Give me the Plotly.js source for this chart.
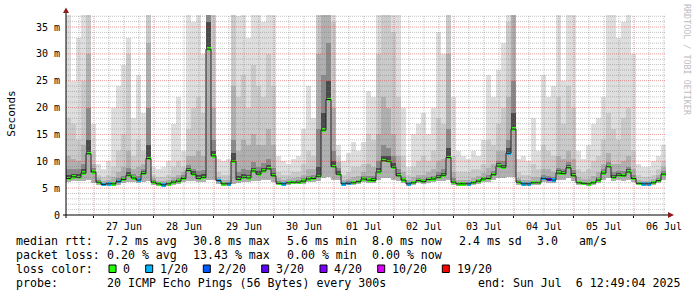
<!DOCTYPE html>
<html><head><meta charset="utf-8">
<script src="https://cdn.plot.ly/plotly-3.0.1.min.js"></script>
<style>html,body{margin:0;padding:0;background:#fff}#chart{width:697px;height:297px}</style>
</head><body><div id="chart"></div>
<script>
// ---- data (2-hour steps, 26 Jun 12:49 -> 06 Jul 12:49) ----
const START = Date.UTC(2025,5,26,12,49);
const STEP_HOURS = 2;
const median = [6.8,7.1,7.0,7.8,11.4,8.0,6.1,5.7,5.8,5.8,
 6.2,6.6,7.4,6.9,6.5,7.7,10.5,6.1,5.8,5.6,
 5.8,6.1,6.3,6.8,8.3,7.6,6.8,7.0,30.9,11.0,
 6.4,5.8,5.8,10.0,6.6,7.0,6.9,8.2,7.6,8.2,
 8.6,7.3,5.9,5.8,6.0,6.1,6.1,6.3,6.7,6.8,
 7.2,15.8,21.5,9.0,7.6,5.8,5.9,6.0,6.2,6.7,
 6.5,6.4,8.0,10.1,10.0,8.9,7.3,6.5,5.8,6.0,
 6.4,6.2,6.6,6.7,7.0,7.4,10.7,6.1,5.8,5.8,
 5.8,6.0,6.3,6.7,6.8,7.5,9.1,8.9,11.5,16.0,
 6.1,5.8,5.8,6.0,6.0,6.8,6.6,6.5,7.8,7.7,
 8.8,7.3,6.0,5.9,5.8,6.0,6.5,7.8,9.0,7.0,
 7.4,7.3,8.0,6.8,5.9,5.8,5.8,6.0,6.4,7.6];
const minPing = [6.2,6.3,6.3,6.4,6.5,6.0,5.6,5.4,5.4,5.4,
 5.6,5.9,6.2,6.1,5.9,6.2,6.3,5.6,5.4,5.3,
 5.4,5.6,5.8,6.1,6.4,6.3,6.1,6.2,6.5,6.5,
 5.8,5.4,5.4,5.8,6.0,6.2,6.2,6.4,6.4,6.5,
 6.5,6.2,5.5,5.4,5.6,5.7,5.7,5.8,6.1,6.2,
 6.3,6.8,7.0,6.6,6.5,5.4,5.5,5.6,5.7,6.1,
 6.0,6.0,6.5,6.8,6.8,6.6,6.3,6.0,5.4,5.6,
 5.9,5.8,6.0,6.1,6.3,6.4,6.5,5.6,5.4,5.4,
 5.4,5.6,5.8,6.1,6.2,6.5,6.8,6.8,7.0,7.0,
 5.6,5.4,5.4,5.6,5.6,6.1,6.0,6.0,6.5,6.5,
 6.8,6.4,5.6,5.5,5.4,5.6,5.9,6.5,6.8,6.3,
 6.5,6.4,6.6,6.1,5.5,5.4,5.4,5.6,5.9,6.5];
const smokeMax = [40,25,33,40,40,17,9.5,8.5,10,20,
 24,28,33,18,26,19,40,9,8.5,9,
 10,17,22,12,40,36,40,30,40,40,
 10.5,10,10.5,40,37,40,33,40,40,36,
 40,40,11,10,9.5,10.5,11,16,24,18,
 40,40,40,40,13,10,11.5,13.5,12,13.5,
 23,22,40,40,40,40,40,20,9,15,
 17,19,15,20,34,30,40,22,12,11,
 10.5,12,11,14,26,22,27,32,40,40,
 10.5,11,10,18,12,26,22,24,40,25,
 40,40,12,10.5,13,17,18,22,40,40,
 33,36,40,30,9.5,9,9,10,11,13];
const smokeP85 = [18,17,14,25,40,12,7.5,7,7.5,9,
 12,15,30,11,14,12,40,7.5,7,7,
 7.5,9,10,9,16,20,22,19,40,38,
 8,7.5,7.5,40,22,26,20,28,24,22,
 30,24,8,7.5,7.5,8,8,9.5,12,11,
 40,40,40,36,11,7.5,8,9,9,9.5,
 15,14,30,40,40,34,22,11,7.5,9,
 10,11,10,12,18,17,40,11,8,8,
 8,8.5,8.5,9.5,14,13,17,20,36,40,
 8,7.5,7.5,9.5,8.5,13,12,11,22,17,
 24,20,8.5,8,8.5,10,11,14,19,16,
 14,18,20,12,7.5,7,7,7.5,8.5,10];
const smokeP70 = [11,10.5,10,13,30,9.5,6.8,6.3,6.5,7,
 8,9,12,8.5,9,9.5,32,6.8,6.4,6.3,
 6.5,7,7.5,8,11,11,12,11,40,20,
 7,6.5,6.5,24,12,14,13,15,13,13,
 16,13,6.8,6.5,6.7,6.9,7,7.5,8.5,8.5,
 30,40,40,20,9.8,6.5,6.7,7,7.2,8,
 9.5,9,15,22,20,15,11,8,6.5,7,
 7.5,7.5,8,8.5,10,10.5,30,8,6.6,6.5,
 6.5,6.8,7.2,7.8,8.8,9.5,12,12,22,40,
 6.9,6.5,6.5,7,7,8.5,8.5,8,11,10.5,
 12,10.5,7,6.7,6.7,7.2,8,9.5,11.5,9.5,
 9.5,10,11,8.5,6.6,6.4,6.4,6.7,7.5,9];
const smokeP60 = [8.5,8.6,8.5,9.5,20,8.8,6.5,6.0,6.1,6.2,
 6.8,7.3,8.8,7.7,7.3,8.5,20,6.5,6.1,6.0,
 6.1,6.5,6.8,7.4,9.3,8.6,8.2,8.3,40,14,
 6.7,6.1,6.1,14,8.0,8.5,8.4,9.8,9.0,9.6,
 10.5,8.8,6.3,6.1,6.3,6.4,6.5,6.8,7.3,7.5,
 16,26,32,12,8.8,6.1,6.3,6.4,6.6,7.2,
 7.3,7.3,10,13,12.5,11,8.5,7.0,6.1,6.4,
 6.8,6.7,7.0,7.3,8.0,8.5,16,6.8,6.1,6.1,
 6.1,6.3,6.7,7.1,7.5,8.2,10,10,14,25,
 6.5,6.1,6.1,6.4,6.4,7.4,7.3,7.1,8.8,8.6,
 9.8,8.4,6.4,6.2,6.2,6.4,7.0,8.5,9.8,8.0,
 8.2,8.2,9.0,7.4,6.2,6.1,6.1,6.3,6.9,8.2];
const smokeP55 = [7.4,7.7,7.6,8.5,14,8.4,6.3,5.9,6.0,6.0,
 6.5,6.9,8.0,7.3,6.9,8.1,13,6.3,6.0,5.8,
 6.0,6.3,6.5,7.1,8.8,8.1,7.4,7.6,36,12,
 6.6,6.0,6.0,11.5,7.2,7.6,7.5,8.8,8.2,8.8,
 9.3,7.9,6.1,6.0,6.2,6.3,6.3,6.5,7.0,7.1,
 9,19,25,10,8.1,6.0,6.1,6.2,6.4,7.0,
 6.9,6.8,8.7,11,11,9.6,7.8,6.8,6.0,6.2,
 6.6,6.4,6.8,7.0,7.5,7.9,12.5,6.4,6.0,6.0,
 6.0,6.2,6.5,6.9,7.1,7.9,9.6,9.4,12.5,19,
 6.3,6.0,6.0,6.2,6.2,7.1,6.9,6.8,8.3,8.1,
 9.3,7.8,6.2,6.1,6.0,6.2,6.8,8.2,9.4,7.4,
 7.8,7.7,8.5,7.1,6.1,6.0,6.0,6.2,6.6,7.9];
const lossPings = [0,0,0,0,0,0,0,1,1,0,
 1,0,0,0,1,0,0,0,0,1,
 0,0,0,0,0,0,0,0,0,0,
 1,0,1,0,0,0,0,0,0,0,
 0,0,0,1,0,0,0,0,0,0,
 0,0,0,0,0,1,1,0,0,0,
 0,0,0,0,0,0,0,0,1,0,
 0,0,0,0,0,0,0,0,0,0,
 1,0,0,0,0,0,0,0,1,0,
 0,1,1,0,0,1,3,1,0,0,
 0,0,0,0,0,0,0,0,0,0,
 0,0,0,0,0,1,1,0,0,0];
const lossLevels = [0,1,2,3,4,10,19];
const lossColors = ['#26ff00','#00b8ff','#0059ff','#5e00ff','#7e00ff','#dd00ff','#ff0000'];
const lossLabels = ['0','1/20','2/20','3/20','4/20','10/20','19/20'];
const yTickVals = [0,5,10,15,20,25,30,35];
const yTickText = ['0','5 m','10 m','15 m','20 m','25 m','30 m','35 m'];
const statsRtt = ['7.2 ms avg','30.8 ms max','5.6 ms min','8.0 ms now','2.4 ms sd','3.0','am/s'];
const statsLoss = ['0.20 % avg','13.43 % max','0.00 % min','0.00 % now'];
const probeText = '20 ICMP Echo Pings (56 Bytes) every 300s';
const endText = 'end: Sun Jul  6 12:49:04 2025';

// ---- build ----
const STEP = STEP_HOURS*3600e3;
const END = START + 10*86400e3;
const tStart = median.map((_,i)=>START+i*STEP);
const tMid = tStart.map(t=>t+STEP/2);
const YTOP = 200/((215-27)/35);

function band(up, base, color){
  return {type:'bar', x:tMid, y:up.map((v,i)=>v-base[i]), base:base, width:STEP,
    marker:{color:color, line:{width:0}}, hoverinfo:'skip', showlegend:false};
}
function lossColor(n){ let c=lossColors[0]; lossLevels.forEach((l,k)=>{ if(n>=l) c=lossColors[k]; }); return c; }

const traces = [
  band(smokeMax, minPing, '#dedede'),
  band(smokeP85, minPing, '#cacaca'),
  band(smokeP70, minPing, '#b0b0b0'),
  band(smokeP60, median, '#8a8a8a'),
  band(smokeP55, median, '#4a4a4a'),
  {type:'scatter', mode:'lines', x:tStart.concat([END]), y:median.concat([median[median.length-1]]),
   line:{shape:'hv', color:'#202020', width:1}, hoverinfo:'skip', showlegend:false},
  {type:'bar', x:tMid, y:median.map(()=>0.62), base:median.map(v=>v-0.31), width:STEP*0.8,
   marker:{color:lossPings.map(lossColor), line:{width:0}}, hoverinfo:'skip', showlegend:false}
];

const px = x => (x-66)/600;
const py = y => (215-y)/200;
const nb = s => s.replace(/ /g,'\u00a0');
const MONO = 'DejaVu Sans Mono';
const shapes = [];
const annotations = [];

// grid (drawn above the smoke like rrdtool)
const minorCol = 'rgba(120,120,120,0.45)', majorCol = 'rgba(210,40,40,0.45)';
for (let t = Date.UTC(2025,5,26,18); t < END; t += 6*3600e3){
  const major = ((t - Date.UTC(2025,5,27)) % 86400e3) === 0;
  shapes.push({type:'line', xref:'x', yref:'paper', x0:t, x1:t, y0:0, y1:1, layer:'above',
    line:{color: major?majorCol:minorCol, width:1, dash:'1px,1px'}});
}
for (let v = 1; v < YTOP; v++){
  shapes.push({type:'line', xref:'paper', yref:'y', x0:0, x1:1, y0:v, y1:v, layer:'above',
    line:{color: v%5===0?majorCol:minorCol, width:1, dash:'1px,1px'}});
}
// axes + arrows
shapes.push({type:'line', xref:'paper', yref:'paper', x0:px(63), x1:px(669), y0:0, y1:0, layer:'above', line:{color:'#000', width:1}});
shapes.push({type:'line', xref:'paper', yref:'paper', x0:0, x1:0, y0:py(218), y1:py(9), layer:'above', line:{color:'#000', width:1}});
shapes.push({type:'path', xref:'paper', yref:'paper', xsizemode:'pixel', ysizemode:'pixel', xanchor:0, yanchor:1,
  path:'M -3 2 L 3 2 L 0 7.5 Z', fillcolor:'#8b1c1c', line:{width:0}, layer:'above'});
shapes.push({type:'path', xref:'paper', yref:'paper', xsizemode:'pixel', ysizemode:'pixel', xanchor:1, yanchor:0,
  path:'M 2 -3 L 2 3 L 8 0 Z', fillcolor:'#8b1c1c', line:{width:0}, layer:'above'});

function txt(s, x, y, size, extra){
  annotations.push(Object.assign({text:nb(s), xref:'paper', yref:'paper', x:px(x), y:py(y), xanchor:'left', yanchor:'middle',
    showarrow:false, borderpad:0, borderwidth:0, font:{family:MONO, size:size||11.6, color:'#000'}}, extra||{}));
}
const rowY = [241.3, 255.3, 269, 283.4];
txt('median rtt:', 16, rowY[0]);
[107.3,193.3,286.7,372.3,459,537.3,579.3].forEach((x,k)=>txt(statsRtt[k], x, rowY[0]));
txt('packet loss:', 16, rowY[1]);
[107.3,193.3,286.5,372.3].forEach((x,k)=>txt(statsLoss[k], x, rowY[1]));
txt('loss color:', 16, rowY[2]);
const boxX = [109,145.7,203.3,261.7,320,377.7,442.3];
lossLabels.forEach((lab,k)=>{
  shapes.push({type:'rect', xref:'paper', yref:'paper', x0:px(boxX[k]), x1:px(boxX[k]+7), y0:py(272.5), y1:py(265),
    fillcolor:lossColors[k], line:{color:'#000', width:1}});
  txt(lab, boxX[k]+14.3, rowY[2]);
});
txt('probe:', 16, rowY[3]);
txt(probeText, 107.3, rowY[3]);
txt(endText, 478.3, rowY[3]);
annotations.push({text:'Seconds', xref:'paper', yref:'paper', x:px(10.7), y:py(114), textangle:-90, showarrow:false,
  xanchor:'center', yanchor:'middle', font:{family:MONO, size:11, color:'#000'}});
annotations.push({text:nb('RRDTOOL / TOBI OETIKER'), xref:'paper', yref:'paper', x:px(687), y:py(60), textangle:90, showarrow:false,
  xanchor:'center', yanchor:'middle', font:{family:MONO, size:8.4, color:'#bdbdbd'}});

const layout = {
  width:697, height:297, margin:{l:66, r:31, t:15, b:82, pad:0},
  paper_bgcolor:'#fff', plot_bgcolor:'#fff', barmode:'overlay', bargap:0, showlegend:false,
  xaxis:{type:'date', range:[START, END], dtick:86400000, tick0:'2025-06-27', tickformat:'%d %b',
    ticklabelmode:'period', ticks:'outside', ticklen:2, tickcolor:'#000', showgrid:false, zeroline:false,
    showline:false, tickfont:{family:MONO, size:10, color:'#000'}, fixedrange:true},
  yaxis:{range:[0, YTOP], tickvals:yTickVals, ticktext:yTickText, ticks:'', showgrid:false, zeroline:false,
    showline:false, tickfont:{family:MONO, size:10, color:'#000'}, ticklabelstandoff:5, fixedrange:true},
  shapes:shapes, annotations:annotations
};
Plotly.newPlot('chart', traces, layout, {staticPlot:true, displayModeBar:false});
</script></body></html>
